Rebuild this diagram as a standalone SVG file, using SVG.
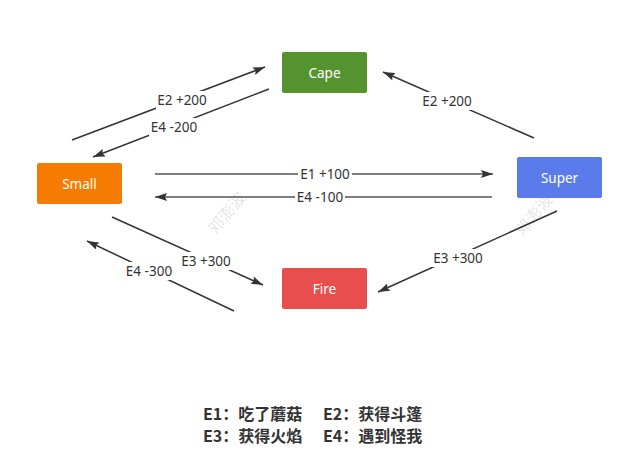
<svg xmlns="http://www.w3.org/2000/svg" width="642" height="463" viewBox="0 0 642 463">
<defs>
<marker id="ah" viewBox="0 0 12 8" refX="12" refY="4" markerWidth="12" markerHeight="8" orient="auto" markerUnits="userSpaceOnUse">
<path d="M0,0 L12,4 L0,8 L2,4 z" fill="#333"/>
</marker>
<style>
.c{stroke:#333;stroke-width:1.5;fill:none;marker-end:url(#ah)}
.h{stroke:#555}
.lb{fill:#fff}
.lt{font-family:"Noto Sans","Liberation Sans",sans-serif;font-size:13.5px;fill:#333;text-anchor:middle;dominant-baseline:central}
.nt{font-family:"Noto Sans","Liberation Sans",sans-serif;font-size:13.5px;fill:#fff;text-anchor:middle;dominant-baseline:central}
.wm{font-family:"Noto Sans CJK SC",sans-serif;font-size:16px;fill:#000;fill-opacity:0.12}
.leg{font-family:"Noto Sans CJK SC","Liberation Sans",sans-serif;font-size:16px;font-weight:bold;fill:#333}
</style>
</defs>
<rect width="642" height="463" fill="#fff"/>
<g id="watermark">
<text class="wm" transform="translate(226,212) rotate(-50)" text-anchor="middle" dominant-baseline="central">邓澎波</text>
<text class="wm" transform="translate(533,214) rotate(-50)" text-anchor="middle" dominant-baseline="central">邓澎波</text>
</g>
<g id="connectors">
<line class="c" x1="72" y1="140" x2="265" y2="67"/>
<line class="c" x1="269" y1="89" x2="93" y2="157"/>
<line class="c h" x1="155" y1="174" x2="493" y2="174"/>
<line class="c h" x1="492" y1="197" x2="155" y2="197"/>
<line class="c" x1="534" y1="138" x2="383" y2="72"/>
<line class="c" x1="557" y1="211" x2="378" y2="292"/>
<line class="c" x1="112" y1="217" x2="263" y2="285"/>
<line class="c" x1="234" y1="311" x2="87" y2="241"/>
<rect class="lb" x="156" y="91" width="52" height="18"/>
<text class="lt" x="182" y="100">E2 +200</text>
<rect class="lb" x="149" y="118" width="50" height="18"/>
<text class="lt" x="174" y="127">E4 -200</text>
<rect class="lb" x="298" y="166" width="54" height="16"/>
<text class="lt" x="325" y="174">E1 +100</text>
<rect class="lb" x="295" y="189" width="50" height="16"/>
<text class="lt" x="320" y="197">E4 -100</text>
<rect class="lb" x="421" y="92" width="52" height="18"/>
<text class="lt" x="447" y="101">E2 +200</text>
<rect class="lb" x="432" y="249" width="52" height="18"/>
<text class="lt" x="458" y="258">E3 +300</text>
<rect class="lb" x="180" y="252" width="52" height="18"/>
<text class="lt" x="206" y="261">E3 +300</text>
<rect class="lb" x="124" y="262" width="50" height="18"/>
<text class="lt" x="149" y="271">E4 -300</text>
</g>
<g id="cape">
<rect x="282" y="52" width="85" height="41" rx="2" fill="#55932F"/>
<text class="nt" x="324.5" y="72.5">Cape</text>
</g>
<g id="small">
<rect x="37" y="163" width="85" height="41" rx="2" fill="#F57C00"/>
<text class="nt" x="79.5" y="183.5">Small</text>
</g>
<g id="super">
<rect x="517" y="157" width="85" height="41" rx="2" fill="#5B7BEA"/>
<text class="nt" x="559.5" y="177.5">Super</text>
</g>
<g id="fire">
<rect x="282" y="268" width="85" height="41" rx="2" fill="#E94E4E"/>
<text class="nt" x="324.5" y="288.5">Fire</text>
</g>
<g id="legend">
<text class="leg" x="203" y="420">E1：吃了蘑菇</text>
<text class="leg" x="323" y="420">E2：获得斗篷</text>
<text class="leg" x="203" y="442">E3：获得火焰</text>
<text class="leg" x="323" y="442">E4：遇到怪我</text>
</g>
</svg>
